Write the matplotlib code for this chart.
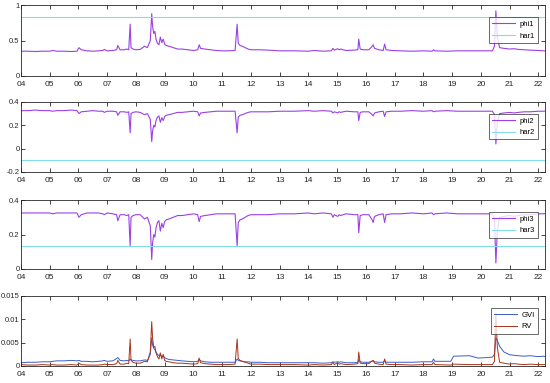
import numpy as np
import matplotlib
matplotlib.use("Agg")
import matplotlib.pyplot as plt

# time axis (decimal years) shared by the three phi panels
t_phi = [2004.0, 2004.25, 2004.5, 2004.75, 2005.0, 2005.1, 2005.25, 2005.5, 2005.75, 2005.95,
         2006.02, 2006.1, 2006.3, 2006.5, 2006.7, 2006.85, 2006.9, 2007.0, 2007.2, 2007.33,
         2007.37, 2007.45, 2007.6, 2007.68, 2007.75, 2007.8, 2007.83, 2007.9, 2008.0, 2008.15,
         2008.3, 2008.4, 2008.5, 2008.55, 2008.58, 2008.62, 2008.66, 2008.7, 2008.75, 2008.8,
         2008.85, 2008.9, 2008.95, 2009.0, 2009.05, 2009.15, 2009.3, 2009.45, 2009.6, 2009.8,
         2010.0, 2010.15, 2010.2, 2010.25, 2010.4, 2010.6, 2010.8, 2011.0, 2011.2, 2011.45,
         2011.52, 2011.56, 2011.62, 2011.7, 2011.8, 2011.9, 2012.0, 2012.3, 2012.6, 2013.0,
         2013.5, 2014.0, 2014.2, 2014.5, 2014.8, 2014.85, 2014.9, 2015.02, 2015.07, 2015.12,
         2015.3, 2015.6, 2015.72, 2015.75, 2015.8, 2015.9, 2016.1, 2016.2, 2016.25, 2016.3,
         2016.45, 2016.6, 2016.65, 2016.7, 2016.9, 2017.2, 2017.6, 2018.0, 2018.3, 2018.35,
         2018.4, 2018.8, 2019.2, 2019.6, 2019.9, 2020.2, 2020.4, 2020.47, 2020.52, 2020.57,
         2020.65, 2020.8, 2021.0, 2021.15, 2021.3, 2021.5, 2021.7, 2022.0, 2022.2, 2022.25]

phi1 = [0.35, 0.35, 0.345, 0.35, 0.35, 0.36, 0.35, 0.35, 0.345, 0.35,
        0.40, 0.37, 0.355, 0.35, 0.355, 0.36, 0.375, 0.355, 0.36, 0.37,
        0.43, 0.37, 0.37, 0.38, 0.37, 0.73, 0.40, 0.38, 0.37, 0.375,
        0.42, 0.40, 0.50, 0.88, 0.70, 0.60, 0.63, 0.52, 0.46, 0.44,
        0.55, 0.47, 0.52, 0.45, 0.43, 0.42, 0.40, 0.38, 0.38, 0.37,
        0.36, 0.37, 0.44, 0.39, 0.38, 0.37, 0.36, 0.355, 0.355, 0.36,
        0.73, 0.46, 0.43, 0.42, 0.40, 0.38, 0.37, 0.37, 0.365, 0.355,
        0.355, 0.35, 0.36, 0.35, 0.355, 0.39, 0.365, 0.385, 0.37, 0.38,
        0.36, 0.365, 0.37, 0.52, 0.38, 0.37, 0.37, 0.41, 0.44, 0.39,
        0.37, 0.36, 0.45, 0.37, 0.36, 0.355, 0.35, 0.355, 0.35, 0.37,
        0.355, 0.35, 0.355, 0.355, 0.355, 0.355, 0.355, 0.42, 0.92, 0.55,
        0.40, 0.39, 0.38, 0.385, 0.375, 0.37, 0.365, 0.36, 0.355, 0.35]

phi2 = [0.325, 0.325, 0.33, 0.325, 0.325, 0.32, 0.325, 0.325, 0.33, 0.325,
        0.30, 0.315, 0.32, 0.325, 0.32, 0.32, 0.31, 0.32, 0.32, 0.315,
        0.285, 0.315, 0.315, 0.31, 0.315, 0.135, 0.30, 0.31, 0.315, 0.31,
        0.29, 0.30, 0.25, 0.06, 0.15, 0.20, 0.185, 0.24, 0.27, 0.28,
        0.225, 0.265, 0.24, 0.275, 0.285, 0.29, 0.30, 0.31, 0.31, 0.315,
        0.32, 0.315, 0.28, 0.305, 0.31, 0.315, 0.32, 0.32, 0.32, 0.32,
        0.135, 0.27, 0.285, 0.29, 0.30, 0.31, 0.315, 0.315, 0.315, 0.32,
        0.32, 0.325, 0.32, 0.325, 0.32, 0.305, 0.315, 0.305, 0.315, 0.31,
        0.32, 0.315, 0.315, 0.24, 0.31, 0.315, 0.315, 0.295, 0.28, 0.305,
        0.315, 0.32, 0.275, 0.315, 0.32, 0.32, 0.325, 0.32, 0.325, 0.315,
        0.32, 0.325, 0.32, 0.32, 0.32, 0.32, 0.32, 0.29, 0.04, 0.22,
        0.30, 0.305, 0.31, 0.305, 0.31, 0.315, 0.315, 0.32, 0.32, 0.325]

phi3 = [0.325, 0.325, 0.325, 0.325, 0.325, 0.32, 0.325, 0.325, 0.325, 0.325,
        0.30, 0.315, 0.325, 0.325, 0.325, 0.32, 0.315, 0.325, 0.32, 0.315,
        0.28, 0.315, 0.315, 0.31, 0.315, 0.135, 0.30, 0.31, 0.315, 0.315,
        0.29, 0.30, 0.25, 0.055, 0.15, 0.20, 0.185, 0.24, 0.27, 0.28,
        0.22, 0.265, 0.24, 0.275, 0.285, 0.29, 0.30, 0.31, 0.31, 0.315,
        0.32, 0.315, 0.275, 0.305, 0.31, 0.315, 0.32, 0.32, 0.32, 0.32,
        0.135, 0.27, 0.285, 0.29, 0.30, 0.31, 0.315, 0.315, 0.315, 0.32,
        0.32, 0.325, 0.32, 0.325, 0.32, 0.30, 0.315, 0.305, 0.315, 0.31,
        0.32, 0.315, 0.315, 0.21, 0.31, 0.315, 0.315, 0.29, 0.27, 0.305,
        0.315, 0.32, 0.27, 0.315, 0.32, 0.32, 0.325, 0.32, 0.325, 0.315,
        0.32, 0.325, 0.32, 0.32, 0.32, 0.32, 0.32, 0.29, 0.035, 0.22,
        0.30, 0.305, 0.31, 0.305, 0.31, 0.315, 0.315, 0.32, 0.32, 0.325]

har1 = 0.83
har2 = -0.1
har3 = 0.135

# volatility panel
t_vol = [2004.0, 2004.25, 2004.5, 2004.75, 2005.0, 2005.1, 2005.25, 2005.5, 2005.75, 2005.95,
         2006.02, 2006.1, 2006.3, 2006.5, 2006.7, 2006.85, 2006.9, 2007.0, 2007.2, 2007.33,
         2007.37, 2007.45, 2007.6, 2007.68, 2007.75, 2007.8, 2007.83, 2007.9, 2008.0, 2008.15,
         2008.3, 2008.4, 2008.5, 2008.55, 2008.58, 2008.62, 2008.66, 2008.7, 2008.75, 2008.8,
         2008.85, 2008.9, 2008.95, 2009.0, 2009.05, 2009.15, 2009.3, 2009.45, 2009.6, 2009.8,
         2010.0, 2010.15, 2010.2, 2010.25, 2010.4, 2010.6, 2010.8, 2011.0, 2011.2, 2011.45,
         2011.52, 2011.56, 2011.62, 2011.7, 2011.8, 2011.9, 2012.0, 2012.3, 2012.6, 2013.0,
         2013.5, 2014.0, 2014.2, 2014.5, 2014.8, 2014.85, 2014.9, 2015.02, 2015.07, 2015.12,
         2015.3, 2015.6, 2015.72, 2015.75, 2015.8, 2015.9, 2016.1, 2016.2, 2016.25, 2016.3,
         2016.45, 2016.6, 2016.65, 2016.7, 2016.9, 2017.2, 2017.6, 2018.0, 2018.3, 2018.35,
         2018.4, 2018.95, 2019.05, 2019.6, 2019.9, 2020.2, 2020.4, 2020.47, 2020.52, 2020.57,
         2020.65, 2020.8, 2021.0, 2021.15, 2021.3, 2021.5, 2021.7, 2022.0, 2022.2, 2022.25]

gvi = [0.0007, 0.0008, 0.0008, 0.0009, 0.0009, 0.0010, 0.0011, 0.0011, 0.0012, 0.0011,
       0.0012, 0.0010, 0.0010, 0.0009, 0.0010, 0.0011, 0.0012, 0.0010, 0.0011, 0.0016,
       0.0018, 0.0012, 0.0011, 0.0012, 0.0011, 0.0015, 0.0013, 0.0012, 0.0011, 0.0011,
       0.0013, 0.0012, 0.0025, 0.0060, 0.0045, 0.0038, 0.0035, 0.0030, 0.0025, 0.0022,
       0.0024, 0.0020, 0.0021, 0.0018, 0.0016, 0.0014, 0.0013, 0.0012, 0.0011, 0.0010,
       0.0009, 0.0010, 0.0014, 0.0011, 0.0009, 0.0008, 0.0008, 0.0008, 0.0008, 0.0008,
       0.0015, 0.0012, 0.0011, 0.0010, 0.0009, 0.0009, 0.0008, 0.0008, 0.0007, 0.0007,
       0.0007, 0.0007, 0.0007, 0.0006, 0.0007, 0.0009, 0.0008, 0.0009, 0.0008, 0.0009,
       0.0007, 0.0007, 0.0008, 0.0014, 0.0009, 0.0008, 0.0008, 0.0010, 0.0011, 0.0009,
       0.0008, 0.0008, 0.0011, 0.0008, 0.0008, 0.0008, 0.0008, 0.0009, 0.0009, 0.0015,
       0.0010, 0.0010, 0.0021, 0.0022, 0.0017, 0.0018, 0.0019, 0.0025, 0.0060, 0.0055,
       0.0042, 0.0030, 0.0024, 0.0023, 0.0022, 0.0021, 0.0022, 0.0020, 0.0021, 0.0019]

rv = [0.0003, 0.0002, 0.0002, 0.0003, 0.0002, 0.0003, 0.0002, 0.0002, 0.0003, 0.0002,
      0.0006, 0.0003, 0.0002, 0.0002, 0.0002, 0.0003, 0.0004, 0.0003, 0.0003, 0.0005,
      0.0012, 0.0004, 0.0004, 0.0006, 0.0005, 0.0058, 0.0012, 0.0008, 0.0006, 0.0006,
      0.0010, 0.0009, 0.0030, 0.0095, 0.0060, 0.0040, 0.0042, 0.0028, 0.0020, 0.0015,
      0.0028, 0.0015, 0.0025, 0.0012, 0.0010, 0.0009, 0.0007, 0.0006, 0.0006, 0.0005,
      0.0004, 0.0005, 0.0017, 0.0007, 0.0005, 0.0004, 0.0003, 0.0003, 0.0003, 0.0004,
      0.0058, 0.0016, 0.0012, 0.0010, 0.0008, 0.0006, 0.0004, 0.0004, 0.0003, 0.0003,
      0.0003, 0.0002, 0.0003, 0.0002, 0.0003, 0.0008, 0.0003, 0.0007, 0.0004, 0.0005,
      0.0003, 0.0004, 0.0005, 0.0030, 0.0006, 0.0005, 0.0005, 0.0010, 0.0012, 0.0006,
      0.0004, 0.0003, 0.0015, 0.0004, 0.0003, 0.0003, 0.0002, 0.0003, 0.0003, 0.0008,
      0.0003, 0.0002, 0.0004, 0.0003, 0.0003, 0.0003, 0.0003, 0.0010, 0.0113, 0.0040,
      0.0008, 0.0006, 0.0004, 0.0005, 0.0004, 0.0003, 0.0004, 0.0003, 0.0003, 0.0003]

years = list(range(2004, 2023))
year_labels = ["%02d" % (y % 100) for y in years]

purple = "#9c40e6"
cyan = "#80dcee"

plt.rcParams["font.family"] = "Liberation Sans"
fig = plt.figure(figsize=(5.5, 3.83), dpi=100)

# [left, bottom, width, height] in figure fraction
rects = [[0.038, 0.8016, 0.953, 0.185],
         [0.038, 0.551, 0.953, 0.183],
         [0.038, 0.2977, 0.953, 0.180],
         [0.038, 0.0444, 0.953, 0.183]]
axes = [fig.add_axes(r) for r in rects]

def style(ax, ylim, yticks, yticklabels):
    ax.set_xlim(2004, 2022.23)
    ax.set_ylim(*ylim)
    ax.set_xticks(years)
    ax.set_xticklabels(year_labels)
    ax.set_yticks(yticks)
    ax.set_yticklabels(yticklabels)
    ax.tick_params(direction="in", top=True, right=True, length=3, width=0.6,
                   colors="#262626")
    ax.tick_params(axis="x", labelsize=6, pad=3.5)
    ax.tick_params(axis="y", labelsize=5.5, pad=1)
    for s in ax.spines.values():
        s.set_linewidth(0.6)
        s.set_color("#262626")

def legend(ax):
    leg = ax.legend(loc="upper right", fontsize=5.5, frameon=True, fancybox=False,
                    edgecolor="#262626", borderpad=0.4, handlelength=3.0,
                    handletextpad=0.6, labelspacing=0.6,
                    bbox_to_anchor=(0.993, 0.88))
    leg.get_frame().set_linewidth(0.6)

ax = axes[0]
ax.plot(t_phi, phi1, color=purple, lw=0.8, label="phi1")
ax.axhline(har1, color=cyan, lw=0.8, label="har1")
style(ax, (0, 1), [0, 0.5, 1], ["0", "0.5", "1"])
legend(ax)

ax = axes[1]
ax.plot(t_phi, phi2, color=purple, lw=0.8, label="phi2")
ax.axhline(har2, color=cyan, lw=0.8, label="har2")
style(ax, (-0.2, 0.4), [-0.2, 0, 0.2, 0.4], ["-0.2", "0", "0.2", "0.4"])
legend(ax)

ax = axes[2]
ax.plot(t_phi, phi3, color=purple, lw=0.8, label="phi3")
ax.axhline(har3, color=cyan, lw=0.8, label="har3")
style(ax, (0, 0.4), [0, 0.2, 0.4], ["0", "0.2", "0.4"])
legend(ax)

ax = axes[3]
ax.plot(t_vol, gvi, color="#3a5cc8", lw=0.7, label="GVI")
ax.plot(t_vol, rv, color="#a8341a", lw=0.7, label="RV")
style(ax, (0, 0.015), [0, 0.005, 0.01, 0.015], ["0", "0.005", "0.01", "0.015"])
legend(ax)

fig.savefig("out.png", dpi=100)
